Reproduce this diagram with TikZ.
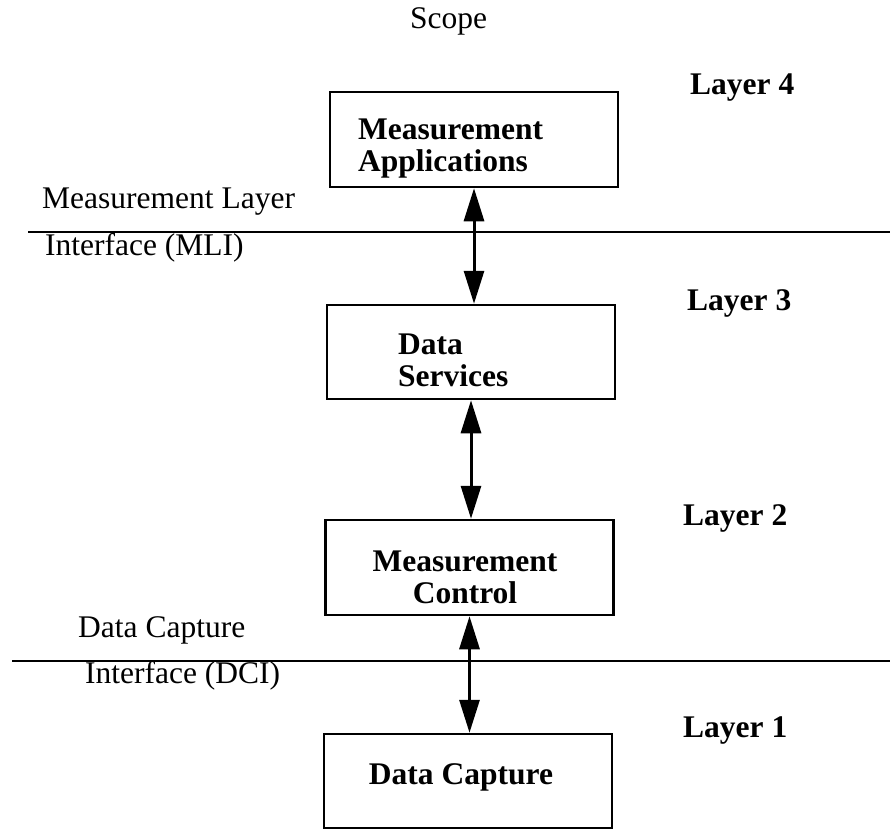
\documentclass[tikz,border=0pt]{standalone}
\usepackage{fontspec}
\setmainfont{Liberation Serif}
\usetikzlibrary{arrows.meta}

\tikzset{
  layerbox/.style={draw, line width=2.5pt, minimum width=288pt, minimum height=95pt, inner sep=0pt},
  boxtext/.style={font=\fontsize{31.5}{32}\selectfont\bfseries, inner sep=0pt},
  sidetext/.style={font=\fontsize{31.5}{32}\selectfont, inner sep=0pt, anchor=base west},
  layertext/.style={font=\fontsize{31.5}{32}\selectfont\bfseries, inner sep=0pt, anchor=base west},
  sepline/.style={line width=2.2pt},
  updown/.style={line width=3pt, {Triangle[length=33pt, width=20pt]}-{Triangle[length=33pt, width=20pt]}}
}

\begin{document}
\begin{tikzpicture}[x=1pt,y=-1pt]
\useasboundingbox (0,0) rectangle (890,829);
\node[sidetext] (scope) at (410,29) {Scope};

\node[layerbox] (apps) at (474,139.5) {};
\node[layerbox, minimum height=94pt] (services) at (471,352) {};
\node[layerbox] (control) at (469.5,567.5) {};
\node[layerbox, minimum height=94pt] (capture) at (468,781) {};

\node[boxtext, align=left, anchor=west] (appstext) at (358,149) {Measurement\\Applications};
\node[boxtext, align=left, anchor=west] (servicestext) at (398,360) {Data\\Services};
\node[boxtext, align=center] (controltext) at (465,577) {Measurement\\Control};
\node[boxtext, anchor=base] (capturetext) at (461,784) {Data Capture};

\node[layertext] (layer4) at (690,95) {Layer 4};
\node[layertext] (layer3) at (687,310) {Layer 3};
\node[layertext] (layer2) at (683,525) {Layer 2};
\node[layertext] (layer1) at (683,737) {Layer 1};

\coordinate (mli west) at (28,232);
\coordinate (mli east) at (890,232);
\coordinate (dci west) at (12,661);
\coordinate (dci east) at (890,661);
\draw[sepline] (mli west) -- (mli east);
\draw[sepline] (dci west) -- (dci east);
\node[sidetext] (mliup) at (42,208) {Measurement Layer};
\node[sidetext] (mlidown) at (45,255) {Interface (MLI)};
\node[sidetext] (dciup) at (78,637) {Data Capture};
\node[sidetext] (dcidown) at (85,683) {Interface (DCI)};

\draw[updown] (apps.south) -- (apps.south |- services.north);
\draw[updown] (services.south) -- (services.south |- control.north);
\draw[updown] (control.south) -- (control.south |- capture.north);
\end{tikzpicture}
\end{document}
